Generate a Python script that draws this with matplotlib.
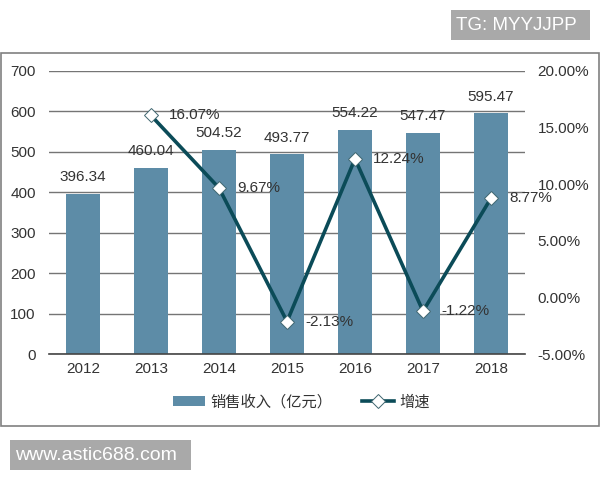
import matplotlib
matplotlib.use("Agg")
import matplotlib.pyplot as plt
from matplotlib.patches import Rectangle

plt.rcParams['font.family'] = ['Liberation Sans', 'Noto Sans CJK SC', 'DejaVu Sans']

years = ['2012', '2013', '2014', '2015', '2016', '2017', '2018']
revenue = [396.34, 460.04, 504.52, 493.77, 554.22, 547.47, 595.47]
growth_years = ['2013', '2014', '2015', '2016', '2017', '2018']
growth = [16.07, 9.67, -2.13, 12.24, -1.22, 8.77]
left_ticks = [0, 100, 200, 300, 400, 500, 600, 700]
right_ticks = [-5, 0, 5, 10, 15, 20]
bar_name = '销售收入（亿元）'
line_name = '增速'
tag_text = 'TG: MYYJJPP'
site_text = 'www.astic688.com'

W, H = 600, 480
TXT = '#333333'
BAR = '#5d8ca7'
LINE = '#0b4b58'
GRID = '#757575'
TAG = '#a9a9a9'
FS = 11

fig = plt.figure(figsize=(6, 4.8), dpi=100, facecolor='white')

def px_rect(x0, y0, x1, y1, **kw):
    fig.add_artist(Rectangle((x0 / W, 1 - y1 / H), (x1 - x0) / W, (y1 - y0) / H,
                             transform=fig.transFigure, zorder=-5, **kw))

px_rect(0.5, 53, 598.5, 426, facecolor='white', edgecolor='#808080', linewidth=1.2)
px_rect(451, 10, 590, 40, facecolor=TAG, edgecolor='none')
px_rect(10, 440, 191, 470, facecolor=TAG, edgecolor='none')
fig.text(456 / W, 1 - 25.5 / H, tag_text, color='white', fontsize=13.5, va='center', ha='left')
fig.text(15 / W, 1 - 456 / H, site_text, color='white', fontsize=14, va='center', ha='left')

ax = fig.add_axes([49 / W, 1 - 354 / H, 476 / W, 283 / H])
ax.set_facecolor('none')
pos = list(range(len(years)))
ax.bar(pos, revenue, width=0.49, color=BAR, zorder=2, label=bar_name)
ax.set_xlim(-0.5, 6.5)
ax.set_ylim(0, 700)
ax.set_yticks(left_ticks)
ax.set_xticks(pos)
ax.set_xticklabels(years)
ax.grid(axis='y', color=GRID, linewidth=1.0, zorder=1)
ax.set_axisbelow(True)
ax.tick_params(length=0, labelsize=FS, labelcolor=TXT)
ax.tick_params(axis='x', pad=6)
ax.tick_params(axis='y', pad=9.5)
for s in ['top', 'left', 'right']:
    ax.spines[s].set_visible(False)
ax.spines['bottom'].set_color('#444444')
ax.spines['bottom'].set_linewidth(1.2)
for p, v in zip(pos, revenue):
    ax.annotate(f'{v:.2f}', (p, v), xytext=(0, 12), textcoords='offset points',
                ha='center', va='center', fontsize=FS, color=TXT, zorder=6)

ax2 = ax.twinx()
ax2.set_ylim(-5, 20)
ax2.set_yticks(right_ticks)
ax2.set_yticklabels([f'{t:.2f}%' for t in right_ticks])
ax2.tick_params(length=0, labelsize=FS, labelcolor=TXT, pad=9)
for s in ax2.spines.values():
    s.set_visible(False)
gpos = [years.index(y) for y in growth_years]
ax2.plot(gpos, growth, color=LINE, linewidth=2.6, marker='D', markersize=7.5,
         markerfacecolor='white', markeredgecolor='#3f6670', markeredgewidth=0.7,
         zorder=5, label=line_name)
for p, v in zip(gpos, growth):
    ax2.annotate(f'{v:.2f}%', (p, v), xytext=(13, 0), textcoords='offset points',
                 ha='left', va='center', fontsize=FS, color=TXT, zorder=6)

h1, l1 = ax.get_legend_handles_labels()
h2, l2 = ax2.get_legend_handles_labels()
fig.legend(h1 + h2, l1 + l2, loc='center', bbox_to_anchor=(301.5 / W, 1 - 402 / H),
           ncol=2, frameon=False, fontsize=11, labelcolor=TXT, handlelength=2.1,
           columnspacing=1.96, handletextpad=0.33)

fig.savefig('out.png', dpi=100)
